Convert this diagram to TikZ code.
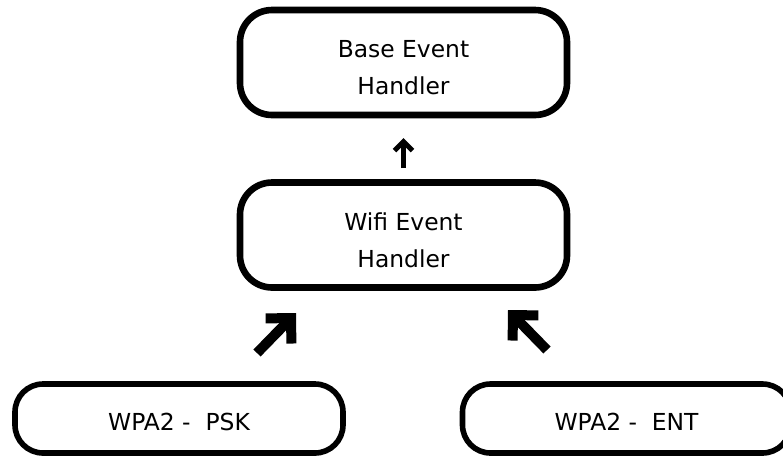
\documentclass[tikz,border=0pt]{standalone}
\usepackage{fontspec}
\setmainfont{DejaVu Sans}
\usetikzlibrary{arrows.meta}

\tikzset{
  handler/.style={draw, line width=3.3pt, rounded corners=16pt,
    minimum width=163.5pt, minimum height=52.5pt, inner sep=0pt,
    align=center, font=\fontsize{11.7}{18.3}\selectfont},
  wpa/.style={draw, line width=2.8pt, rounded corners=14pt,
    minimum width=164pt, minimum height=34.5pt, inner sep=0pt,
    text height=11.5pt, text depth=0pt,
    font=\fontsize{11.7}{14}\selectfont},
  thinarrow/.style={line width=2.5pt, -{Straight Barb[length=4.5pt, width=9pt]}},
  fatarrow/.style={line width=5pt, -{Straight Barb[length=9pt, width=18pt]}}
}
\newcommand{\toppad}{\rule{0pt}{13.9pt}}

\begin{document}
\begin{tikzpicture}[x=0.5pt, y=-0.5pt]
  \useasboundingbox (0,0) rectangle (783,457);

  % handlers
  \node[handler] (base) at (403.5, 62.5) {\toppad Base Event\\Handler};
  \node[handler] (wifi) at (403.5, 235) {\toppad Wifi Event\\Handler};

  % security modes
  \node[wpa] (psk) at (179, 418.5) {WPA2 -\ \ PSK};
  \node[wpa] (ent) at (626.5, 418.5) {WPA2 -\ \ ENT};

  \coordinate (pskout)  at (257, 353);
  \coordinate (wifiinL) at (296, 313);
  \coordinate (entout)  at (547, 350);
  \coordinate (wifiinR) at (508, 310);

  \draw[thinarrow, shorten <=5.6pt, shorten >=9.9pt] (wifi.north) -- (base.south);
  \draw[fatarrow] (pskout) -- (wifiinL);
  \draw[fatarrow] (entout) -- (wifiinR);
\end{tikzpicture}
\end{document}
